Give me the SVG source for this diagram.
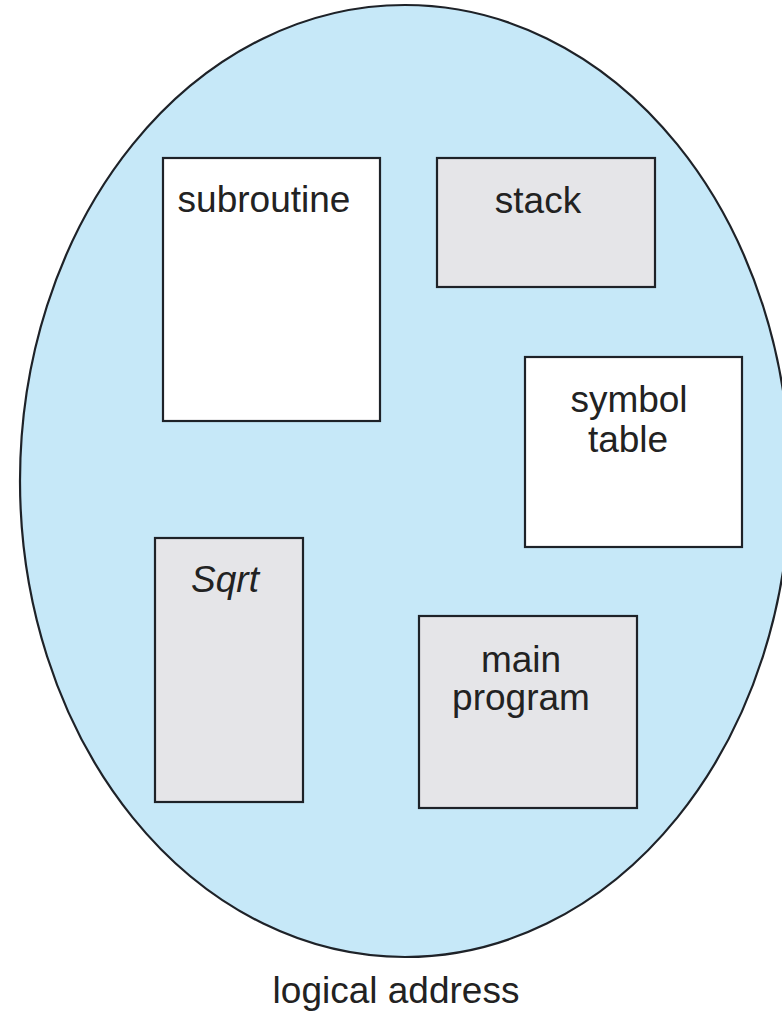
<svg xmlns="http://www.w3.org/2000/svg" width="782" height="1019" viewBox="0 0 782 1019">
<style>
.box{stroke:#1e2228;stroke-width:2.2}
.white{fill:#ffffff}
.gray{fill:#e5e5e8}
.lbl{font-family:"Liberation Sans",Arial,sans-serif;font-size:37px;fill:#222222}
</style>
<rect x="0" y="0" width="782" height="1019" fill="#ffffff"/>
<g id="space">
<ellipse cx="405" cy="481" rx="385" ry="476" fill="#c6e8f8" stroke="#1e2228" stroke-width="2.2"/>
</g>
<g id="subroutine">
<rect class="box white" x="163" y="158" width="217" height="263"/>
<text class="lbl" x="264" y="212" text-anchor="middle">subroutine</text>
</g>
<g id="stack">
<rect class="box gray" x="437" y="158" width="218" height="129"/>
<text class="lbl" x="538" y="213" text-anchor="middle">stack</text>
</g>
<g id="symbol-table">
<rect class="box white" x="525" y="357" width="217" height="190"/>
<text class="lbl" x="629" y="412" text-anchor="middle">symbol</text>
<text class="lbl" x="628" y="452" text-anchor="middle">table</text>
</g>
<g id="sqrt">
<rect class="box gray" x="155" y="538" width="148" height="264"/>
<text class="lbl" x="225" y="592" text-anchor="middle" font-style="italic">Sqrt</text>
</g>
<g id="main-program">
<rect class="box gray" x="419" y="616" width="218" height="192"/>
<text class="lbl" x="521" y="672" text-anchor="middle">main</text>
<text class="lbl" x="521" y="710" text-anchor="middle">program</text>
</g>
<g id="connectors"></g>
<text class="lbl" x="396" y="1003" text-anchor="middle" font-size="39">logical address</text>
</svg>
